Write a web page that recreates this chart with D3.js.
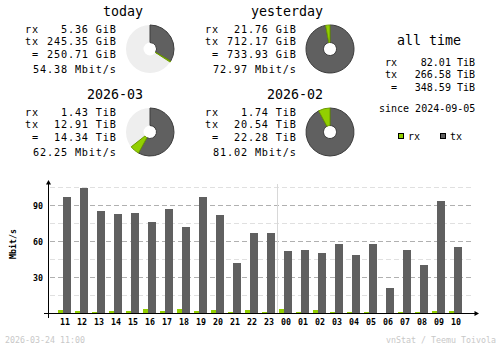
<!DOCTYPE html>
<html>
<head>
<meta charset="utf-8">
<script src="https://cdn.jsdelivr.net/npm/d3@7/dist/d3.min.js"></script>
<style>
  html, body { margin: 0; padding: 0; background: #fff; }
  svg { display: block; }
  text { font-family: "DejaVu Sans Mono", monospace; }
</style>
</head>
<body>
<div id="chart"></div>
<script>
// ---- summary periods ----
const periodNames = ["today", "yesterday", "2026-03", "2026-02"];
const periodRx    = [5.36, 21.76, 1.43, 1.74];
const periodTx    = [245.35, 712.17, 12.91, 20.54];
const periodTotal = [250.71, 733.93, 14.34, 22.28];
const periodUnit  = ["GiB", "GiB", "TiB", "TiB"];
const periodRate  = [54.38, 72.97, 62.25, 81.02];

// ---- all time ----
const allTimeRx = 82.01, allTimeTx = 266.58, allTimeTotal = 348.59;
const allTimeUnit = "TiB";
const sinceDate = "2024-09-05";

// ---- hourly average rate, Mbit/s ----
const hours  = ["11","12","13","14","15","16","17","18","19","20","21","22","23",
                "00","01","02","03","04","05","06","07","08","09","10"];
const hourRx = [2.7, 1.9, 1.0, 2.0, 2.0, 3.5, 2.0, 3.5, 2.0, 2.7, 1.0, 2.7, 1.0,
                3.5, 1.0, 2.7, 1.0, 1.0, 1.0, 0.3, 1.0, 1.0, 2.0, 2.0];
const hourTx = [97, 104, 85.3, 82.8, 83.6, 76.1, 86.9, 71.9, 96.9, 81.9, 41.9, 66.9, 66.9,
                51.9, 52.8, 50.3, 57.8, 48.6, 57.8, 21.1, 52.8, 40.3, 93.6, 55.3];
const yTicks = [30, 60, 90];
const yMinorTicks = [15, 45, 75, 105];

const stampText = "2026-03-24 11:00";
const creditText = "vnStat / Teemu Toivola";

const W = 500, H = 348;
const C = { rx: "#92cf00", rxEdge: "#6c9a00", tx: "#606060", txEdge: "#3c3c3c",
            pieBg: "#eeeeee", line: "#b0b0b0", lineL: "#e0e0e0", text: "#000", faint: "#c8c8c8" };

const svg = d3.select("#chart").append("svg")
  .attr("width", W).attr("height", H);
svg.append("rect").attr("width", W).attr("height", H).attr("fill", "#fff");

// ---- period blocks: numbers + donut ----
const fmt = d3.format(".2f");
const blocks = periodNames.map((name, i) => ({
  name, rx: periodRx[i], tx: periodTx[i], total: periodTotal[i], unit: periodUnit[i], rate: periodRate[i],
  // current period is scaled against the previous one; completed periods are full
  fill: i % 2 === 0 ? periodTotal[i] / Math.max(periodTotal[i], periodTotal[i + 1]) : 1,
  ox: (i % 2) * 180, oy: Math.floor(i / 2) * 83
}));

const arc = d3.arc().innerRadius(6.5).outerRadius(24);
const rowFont = { size: 10.2, spacing: 0.85 };

blocks.forEach(b => {
  const g = svg.append("g").attr("transform", `translate(${b.ox},${b.oy})`);
  g.append("text").attr("x", 143).attr("y", 16).attr("text-anchor", "end")
    .attr("font-size", 13.3).attr("fill", C.text).text(b.name);

  const rows = [["rx", fmt(b.rx) + " " + b.unit, 33],
                ["tx", fmt(b.tx) + " " + b.unit, 45],
                [" =", fmt(b.total) + " " + b.unit, 58]];
  rows.forEach(([lab, val, yy]) => {
    g.append("text").attr("x", 25).attr("y", yy).attr("font-size", rowFont.size)
      .attr("letter-spacing", rowFont.spacing).style("white-space", "pre").text(lab);
    g.append("text").attr("x", 116.8).attr("y", yy).attr("font-size", rowFont.size)
      .attr("letter-spacing", rowFont.spacing).attr("text-anchor", "end").text(val);
  });
  g.append("text").attr("x", 116.8).attr("y", 73).attr("font-size", rowFont.size)
    .attr("letter-spacing", rowFont.spacing).attr("text-anchor", "end")
    .text(fmt(b.rate) + " Mbit/s");

  const pie = g.append("g").attr("transform", "translate(150,49)");
  const full = 2 * Math.PI;
  pie.append("path").attr("fill", C.pieBg)
    .attr("d", arc({ startAngle: 0, endAngle: full }));
  const txEnd = full * b.fill * (b.tx / b.total);
  const endAll = full * b.fill;
  pie.append("path").attr("fill", C.tx).attr("stroke", C.txEdge).attr("stroke-width", 1)
    .attr("d", arc({ startAngle: 0, endAngle: txEnd }));
  pie.append("path").attr("fill", C.rx).attr("stroke", C.rxEdge).attr("stroke-width", 1)
    .attr("d", arc({ startAngle: txEnd, endAngle: endAll }));
});

// ---- all time block ----
const at = svg.append("g");
at.append("text").attr("x", 429).attr("y", 44.5).attr("text-anchor", "middle")
  .attr("font-size", 13.3).text("all time");
[["rx", allTimeRx, 66], ["tx", allTimeTx, 78], [" =", allTimeTotal, 91]].forEach(([lab, v, yy]) => {
  at.append("text").attr("x", 385).attr("y", yy).attr("font-size", 10)
    .style("white-space", "pre").text(lab);
  at.append("text").attr("x", 475).attr("y", yy).attr("font-size", 10)
    .attr("text-anchor", "end").text(fmt(v) + " " + allTimeUnit);
});
at.append("text").attr("x", 379).attr("y", 111.5).attr("font-size", 10)
  .text("since " + sinceDate);

// legend
[["rx", C.rx, 398], ["tx", C.tx, 440]].forEach(([lab, col, lx]) => {
  at.append("rect").attr("x", lx + 0.5).attr("y", 133.5).attr("width", 5).attr("height", 5)
    .attr("fill", col).attr("stroke", "#000").attr("shape-rendering", "crispEdges");
  at.append("text").attr("x", lx + 10).attr("y", 140).attr("font-size", 10).text(lab);
});

// ---- hourly bar chart ----
const x = d3.scaleBand().domain(hours).range([58, 58 + 17 * hours.length]).padding(0);
const y = d3.scaleLinear().domain([0, 105]).range([313, 187]);

const chart = svg.append("g").attr("shape-rendering", "crispEdges");

// grid
chart.selectAll("line.minor").data(yMinorTicks).join("line")
  .attr("x1", 50).attr("x2", 473)
  .attr("y1", d => y(d) + 0.5).attr("y2", d => y(d) + 0.5)
  .attr("stroke", C.lineL).attr("stroke-dasharray", "5,3");
chart.selectAll("line.major").data(yTicks).join("line")
  .attr("x1", 50).attr("x2", 473)
  .attr("y1", d => y(d) + 0.5).attr("y2", d => y(d) + 0.5)
  .attr("stroke", C.line).attr("stroke-dasharray", "5,3");

// day boundary between 23 and 00
const dayX = x("00") - 1.5;
chart.append("line").attr("x1", dayX).attr("x2", dayX).attr("y1", 184).attr("y2", 313)
  .attr("stroke", "#d8d8d8");

// bars
chart.selectAll("rect.rx").data(hours).join("rect")
  .attr("x", d => x(d)).attr("width", 5)
  .attr("y", (d, i) => y(hourRx[i])).attr("height", (d, i) => y(0) - y(hourRx[i]))
  .attr("fill", C.rx);
chart.selectAll("rect.tx").data(hours).join("rect")
  .attr("x", d => x(d) + 5).attr("width", 8)
  .attr("y", (d, i) => y(hourTx[i])).attr("height", (d, i) => y(0) - y(hourTx[i]))
  .attr("fill", C.tx);

// axes
chart.append("line").attr("x1", 44).attr("x2", 476).attr("y1", 313.5).attr("y2", 313.5)
  .attr("stroke", "#000");
chart.append("line").attr("x1", 48.5).attr("x2", 48.5).attr("y1", 184).attr("y2", 318)
  .attr("stroke", "#000");
svg.append("path").attr("d", "M479,313.5 L474.5,311 L474.5,316 Z").attr("fill", "#000");
svg.append("path").attr("d", "M48.5,180 L46,184.5 L51,184.5 Z").attr("fill", "#000");

// tick labels
svg.selectAll("text.yt").data(yTicks).join("text")
  .attr("x", 43).attr("y", d => y(d) + 3.5).attr("text-anchor", "end")
  .attr("font-size", 8.3).attr("font-weight", "bold").text(d => d);
svg.selectAll("text.xt").data(hours).join("text")
  .attr("x", d => x(d) + 7).attr("y", 324.5).attr("text-anchor", "middle")
  .attr("font-size", 8.3).attr("font-weight", "bold").text(d => d);
svg.append("text").attr("transform", "translate(16,244) rotate(-90)")
  .attr("text-anchor", "middle").attr("font-size", 8.3).attr("font-weight", "bold")
  .text("Mbit/s");

// footer
svg.append("text").attr("x", 5).attr("y", 342.5).attr("font-size", 8.3)
  .attr("fill", C.faint).text(stampText);
svg.append("text").attr("x", 496).attr("y", 342.5).attr("font-size", 8.3)
  .attr("text-anchor", "end").attr("fill", C.faint).text(creditText);
</script>
</body>
</html>
